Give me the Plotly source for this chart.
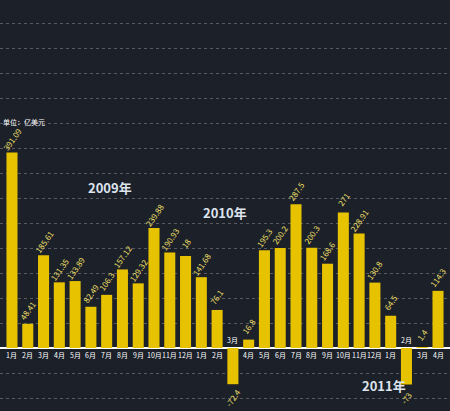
import plotly.graph_objects as go

months = ["1月", "2月", "3月", "4月", "5月", "6月", "7月", "8月", "9月", "10月", "11月", "12月",
          "1月", "2月", "3月", "4月", "5月", "6月", "7月", "8月", "9月", "10月", "11月", "12月",
          "1月", "2月", "3月", "4月"]
values = [391.09, 48.41, 185.61, 131.35, 133.89, 82.49, 106.3, 157.12, 129.32, 239.88, 190.93, 184,
          141.68, 76.1, -72.4, 16.8, 195.3, 200.2, 287.5, 200.3, 168.6, 271, 228.91, 130.8,
          64.5, -73, 1.4, 114.3]
labels = ["391.09", "48.41", "185.61", "131.35", "133.89", "82.49", "106.3", "157.12", "129.32", "239.88", "190.93", "18",
          "141.68", "76.1", "-72.4", "16.8", "195.3", "200.2", "287.5", "200.3", "168.6", "271", "228.91", "130.8",
          "64.5", "-73", "1.4", "114.3"]
years = [("2009年", 6.2, 322), ("2010年", 13.5, 272), ("2011年", 23.6, -74)]

x = list(range(len(values)))
fig = go.Figure(go.Bar(x=x, y=values, width=0.7,
                       marker=dict(color="#e6c200", line=dict(width=0))))

for i, (m, v, t) in enumerate(zip(months, values, labels)):
    fig.add_annotation(x=i, y=-14 if v >= 0 else 16, text=m, showarrow=False,
                       font=dict(size=7, color="white"))
    fig.add_annotation(x=i, y=v, yshift=13 if v >= 0 else -13, text=t, showarrow=False,
                       textangle=-55, font=dict(size=8, color="#f5e06a"))
for name, xx, yy in years:
    fig.add_annotation(x=xx, y=yy, text="<b>" + name + "</b>", showarrow=False,
                       font=dict(size=13, color="#dde4ee"))
fig.add_annotation(x=-0.7, y=452, xanchor="left", text="单位：亿美元", showarrow=False,
                   font=dict(size=7, color="white"))

fig.update_layout(
    width=450, height=411, margin=dict(l=0, r=0, t=0, b=0),
    paper_bgcolor="#1c2029", plot_bgcolor="#1c2029", showlegend=False,
    font=dict(family="Noto Sans CJK SC"),
    xaxis=dict(range=[-0.76, 27.76], visible=False),
    yaxis=dict(range=[-126, 696], showticklabels=False, dtick=50,
               gridcolor="rgba(200,200,200,0.35)", griddash="dot",
               zeroline=True, zerolinecolor="white", zerolinewidth=1.5),
)
fig.write_html("out.html", config={"displayModeBar": False},
               post_script="document.body.style.margin='0';")
